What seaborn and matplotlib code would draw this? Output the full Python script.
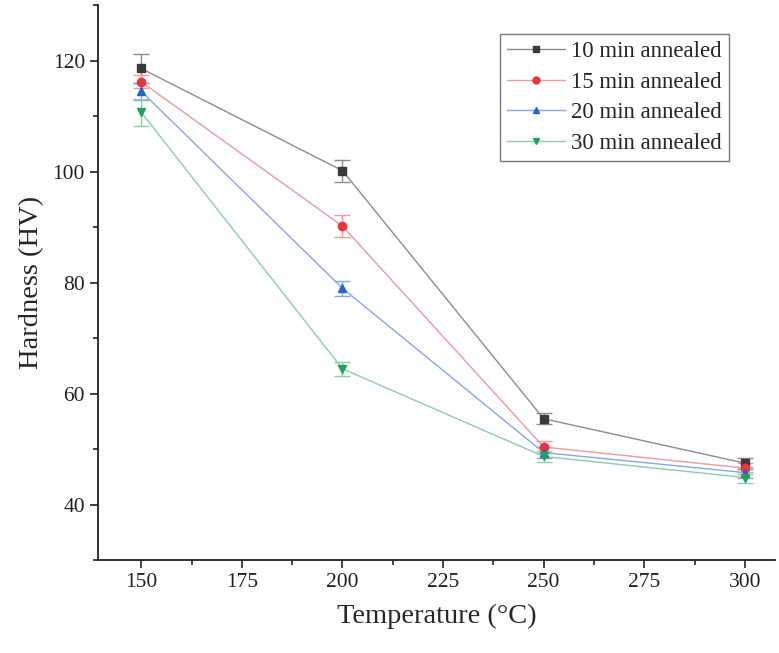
import numpy as np
import pandas as pd
import matplotlib
matplotlib.use("Agg")
import matplotlib.pyplot as plt
from matplotlib.ticker import MultipleLocator
import seaborn as sns

# values
temps = [150, 200, 250, 300]
h_10 = [118.6, 100.2, 55.5, 47.5]
h_15 = [116.2, 90.2, 50.4, 46.6]
h_20 = [114.5, 79.0, 49.4, 45.8]
h_30 = [110.7, 64.5, 48.7, 44.9]
e_10 = [2.6, 2.0, 1.0, 1.0]
e_15 = [1.2, 2.0, 1.0, 1.0]
e_20 = [1.5, 1.4, 1.0, 1.0]
e_30 = [2.4, 1.3, 1.0, 1.0]
labels = ["10 min annealed", "15 min annealed", "20 min annealed", "30 min annealed"]

colors = ["#3a3a3a", "#e8353b", "#2a62d0", "#22a05c"]
line_colors = ["#8c8c8c", "#ee9a9c", "#84a8e0", "#8ccdab"]
markers = ["s", "o", "^", "v"]

rows = []
for lab, hs, es in zip(labels, [h_10, h_15, h_20, h_30], [e_10, e_15, e_20, e_30]):
    for t, h, e in zip(temps, hs, es):
        rows.append({"Temperature": t, "Hardness": h, "err": e, "series": lab})
df = pd.DataFrame(rows)

sns.set_style("ticks")
plt.rcParams["font.family"] = ["Liberation Serif", "DejaVu Serif"]

fig = plt.figure(figsize=(7.79, 6.53), dpi=100)
ax = fig.add_axes([0.126, 0.142, 0.869, 0.850])

for lab, c, lc, m in zip(labels, colors, line_colors, markers):
    d = df[df["series"] == lab]
    ax.errorbar(d["Temperature"], d["Hardness"], yerr=d["err"], fmt="none",
                ecolor=lc, elinewidth=1.0, capsize=6, capthick=1.0, zorder=2)
    sns.lineplot(x=d["Temperature"], y=d["Hardness"], ax=ax, color=lc, lw=1.0,
                 label=lab, zorder=3, marker=None)
    ax.plot(d["Temperature"], d["Hardness"], ls="none", marker=m, ms=6,
            mfc=c, mec=c, zorder=4)

# legend with line + marker like the original
handles = [plt.Line2D([], [], color=lc, lw=1.0, marker=m, ms=5, mfc=c, mec=c)
           for c, lc, m in zip(colors, line_colors, markers)]
ax.legend(handles, labels, loc="upper right", bbox_to_anchor=(0.932, 0.948),
          fontsize=16.5, frameon=True, fancybox=False, edgecolor="#555555",
          handlelength=2.5, handletextpad=0.3, borderpad=0.3, labelspacing=0.42,
          borderaxespad=0.0)

ax.set_xlim(139.3, 307.5)
ax.set_ylim(30, 130)
ax.xaxis.set_major_locator(MultipleLocator(25))
ax.xaxis.set_minor_locator(MultipleLocator(12.5))
ax.yaxis.set_major_locator(MultipleLocator(20))
ax.yaxis.set_minor_locator(MultipleLocator(10))
ax.tick_params(which="major", direction="out", length=6, width=1.2, labelsize=15.5, colors="#222222")
ax.tick_params(which="minor", direction="out", length=3.5, width=1.2)
for s in ["left", "bottom"]:
    ax.spines[s].set_linewidth(1.3)
    ax.spines[s].set_color("#222222")
sns.despine(ax=ax)

ax.set_xlabel("Temperature (°C)", fontsize=20.5, labelpad=8)
ax.set_ylabel("Hardness (HV)", fontsize=20.5, labelpad=6)

fig.savefig("out.png", dpi=100)
